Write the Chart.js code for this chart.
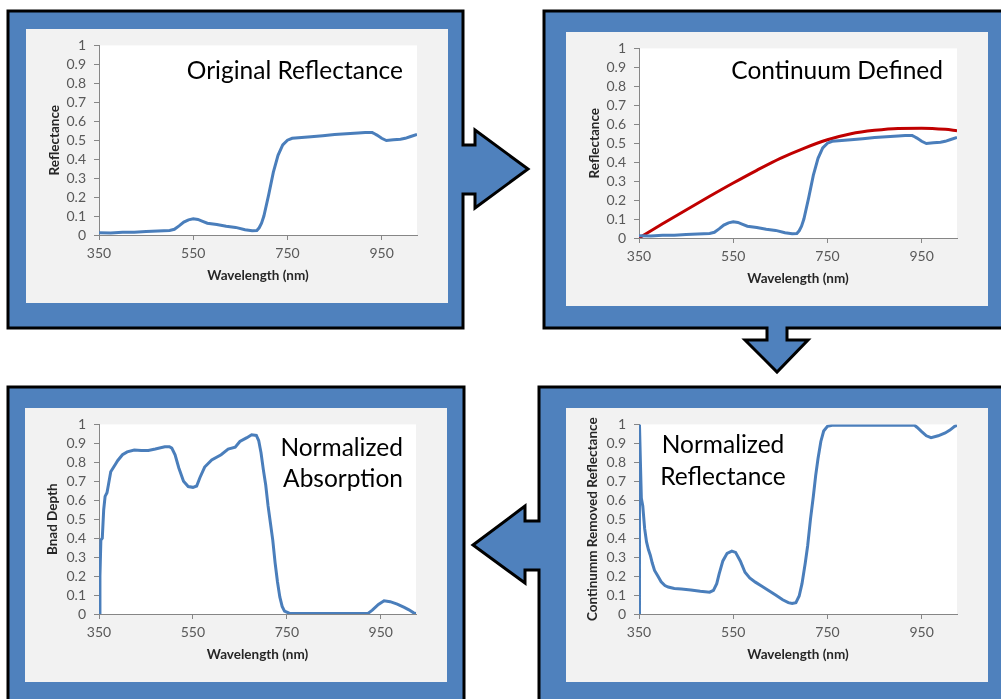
<!DOCTYPE html>
<html>
<head>
<meta charset="utf-8">
<script src="https://cdn.jsdelivr.net/npm/chart.js@4.4.1/dist/chart.umd.min.js"></script>
<style>
  html, body { margin: 0; padding: 0; background: #ffffff; }
  #stage { position: relative; width: 1001px; height: 699px; overflow: hidden; background: #ffffff; }
  svg.frames { position: absolute; left: 0; top: 0; }
  .box { position: absolute; background: #F2F2F2; }
  .box canvas { display: block; }
  .big { position: absolute; font-family: Lato, "Open Sans", sans-serif; font-size: 24.5px; color: #000; white-space: nowrap; }
</style>
</head>
<body>
<div id="stage">
  <svg class="frames" width="1001" height="699" viewBox="0 0 1001 699">
    <g fill="#4F81BD" stroke="#000" stroke-width="3" stroke-linejoin="miter">
      <polygon points="8,11 463,11 463,145 475,145 475,130 528,169 475,208 475,194 463,194 463,328 8,328"/>
      <polygon points="544,11 1006,11 1006,328 787,328 787,340 808,340 777,372 745,340 767,340 767,328 544,328"/>
      <polygon points="539,387 1006,387 1006,705 539,705 539,570 525,570 525,583 473,545 525,506 525,521 539,521"/>
      <polygon points="8,387 464,387 464,705 8,705"/>
    </g>
  </svg>

  <div class="box" style="left:26px;top:29px;width:422px;height:274px;"><canvas id="c1" width="422" height="274"></canvas></div>
  <div class="box" style="left:566px;top:32px;width:422px;height:274px;"><canvas id="c2" width="422" height="274"></canvas></div>
  <div class="box" style="left:25px;top:408px;width:422px;height:274px;"><canvas id="c3" width="422" height="274"></canvas></div>
  <div class="box" style="left:566px;top:408px;width:422px;height:274px;"><canvas id="c4" width="422" height="274"></canvas></div>

  <div class="big" style="left:150px;top:58px;width:253px;text-align:right;line-height:24px;">Original Reflectance</div>
  <div class="big" style="left:690px;top:58px;width:253px;text-align:right;line-height:24px;">Continuum Defined</div>
  <div class="big" style="left:250px;top:431px;width:153px;text-align:right;line-height:31px;">Normalized<br>Absorption</div>
  <div class="big" style="left:643px;top:428px;width:160px;text-align:center;line-height:31.7px;">Normalized<br>Reflectance</div>
</div>

<script>
// ---------------- DATA ----------------
const xTicks = [350, 550, 750, 950];
const xTickLabels = ['350', '550', '750', '950'];
const yTicks = [0, 0.1, 0.2, 0.3, 0.4, 0.5, 0.6, 0.7, 0.8, 0.9, 1];
const yTickLabels = ['0', '0.1', '0.2', '0.3', '0.4', '0.5', '0.6', '0.7', '0.8', '0.9', '1'];

// Original reflectance
const reflWl  = [350, 375, 400, 425, 450, 475, 500, 510, 520, 530, 540, 550, 560, 570, 580, 600, 620, 640, 660, 675, 685, 690, 695, 700, 710, 720, 730, 740, 750, 760, 780, 800, 825, 850, 875, 900, 915, 930, 935, 940, 950, 960, 975, 990, 1000, 1010, 1025];
const reflVal = [0.012, 0.011, 0.014, 0.015, 0.018, 0.021, 0.024, 0.030, 0.048, 0.068, 0.080, 0.085, 0.082, 0.072, 0.062, 0.055, 0.046, 0.040, 0.028, 0.022, 0.024, 0.038, 0.062, 0.100, 0.210, 0.330, 0.420, 0.475, 0.500, 0.510, 0.514, 0.518, 0.524, 0.530, 0.534, 0.538, 0.540, 0.540, 0.534, 0.527, 0.510, 0.498, 0.502, 0.505, 0.510, 0.518, 0.530];

// Continuum hull
const contWl  = [350, 400, 450, 500, 550, 600, 650, 700, 750, 800, 850, 900, 950, 1000, 1025];
const contVal = [0.0, 0.075, 0.148, 0.22, 0.29, 0.357, 0.42, 0.473, 0.518, 0.55, 0.568, 0.578, 0.579, 0.573, 0.566];

// Band depth (normalized absorption)
const depthWl  = [350, 352, 354, 357, 360, 363, 367, 370, 375, 380, 385, 390, 400, 410, 425, 440, 455, 470, 490, 500, 505, 512, 520, 530, 540, 550, 558, 565, 575, 590, 610, 625, 640, 650, 665, 675, 685, 690, 695, 700, 705, 710, 715, 720, 725, 730, 735, 740, 745, 755, 800, 850, 900, 922, 932, 945, 957, 970, 985, 1000, 1010, 1020, 1025];
const depthVal = [0.0, 0.2, 0.39, 0.40, 0.55, 0.62, 0.64, 0.68, 0.75, 0.77, 0.79, 0.81, 0.84, 0.855, 0.865, 0.862, 0.862, 0.87, 0.882, 0.882, 0.875, 0.84, 0.77, 0.70, 0.672, 0.668, 0.675, 0.72, 0.775, 0.812, 0.84, 0.87, 0.88, 0.91, 0.93, 0.945, 0.942, 0.915, 0.85, 0.76, 0.68, 0.57, 0.48, 0.39, 0.27, 0.17, 0.09, 0.04, 0.015, 0.004, 0.003, 0.003, 0.002, 0.002, 0.02, 0.05, 0.07, 0.065, 0.052, 0.035, 0.022, 0.006, 0.002];

// Continuum removed reflectance (normalized reflectance)
const crWl  = [350, 351, 353, 355, 358, 362, 366, 370, 374, 378, 383, 390, 397, 405, 412, 425, 440, 460, 480, 500, 508, 515, 520, 528, 537, 547, 555, 565, 575, 585, 597, 610, 625, 640, 655, 667, 675, 683, 690, 696, 703, 708, 714, 720, 725, 730, 736, 742, 750, 760, 800, 850, 900, 935, 940, 950, 960, 970, 985, 1000, 1010, 1020, 1025];
const crVal = [0.0, 1.0, 0.8, 0.61, 0.57, 0.45, 0.38, 0.34, 0.31, 0.27, 0.23, 0.20, 0.17, 0.15, 0.142, 0.135, 0.132, 0.127, 0.12, 0.115, 0.125, 0.16, 0.21, 0.28, 0.32, 0.332, 0.325, 0.28, 0.22, 0.19, 0.168, 0.148, 0.124, 0.10, 0.075, 0.06, 0.055, 0.06, 0.095, 0.16, 0.27, 0.36, 0.50, 0.62, 0.73, 0.82, 0.91, 0.965, 0.99, 0.995, 0.996, 0.995, 0.996, 0.995, 0.985, 0.962, 0.94, 0.93, 0.94, 0.955, 0.97, 0.99, 0.995];

// ---------------- CHARTS ----------------
const BLUE = '#4A7EBB';
const RED = '#C00000';
const AXIS = '#868686';
const TICKCOL = '#595959';
const TITLECOL = '#262626';
const FONT = 'Lato, "Open Sans", sans-serif';

function pts(xs, ys) { return xs.map((x, i) => ({ x: x, y: ys[i] })); }

const plotBg = {
  id: 'plotBg',
  beforeDraw(chart) {
    const a = chart.chartArea, ctx = chart.ctx;
    ctx.save();
    ctx.fillStyle = '#F2F2F2';
    ctx.fillRect(0, 0, chart.width, chart.height);
    ctx.fillStyle = '#FFFFFF';
    ctx.fillRect(a.left, a.top, a.right - a.left, a.bottom - a.top);
    ctx.restore();
  }
};

function makeChart(id, datasets, yTitle, yAxisWidth, yTitlePad, rightPad) {
  return new Chart(document.getElementById(id), {
    type: 'line',
    data: { datasets: datasets },
    plugins: [plotBg],
    options: {
      responsive: false,
      animation: false,
      events: [],
      layout: { padding: { left: 0, right: rightPad, top: 16, bottom: 0 } },
      plugins: { legend: { display: false }, tooltip: { enabled: false }, title: { display: false } },
      elements: { point: { radius: 0 }, line: { tension: 0 } },
      scales: {
        x: {
          type: 'linear', min: 350, max: 1025,
          afterBuildTicks(s) { s.ticks = xTicks.map(v => ({ value: v })); },
          afterFit(s) { s.height = 68; },
          ticks: {
            color: TICKCOL, font: { family: FONT, size: 14 }, padding: 5, maxRotation: 0, autoSkip: false,
            callback(v) { const i = xTicks.indexOf(v); return i >= 0 ? xTickLabels[i] : ''; }
          },
          grid: { display: true, drawOnChartArea: false, drawTicks: true, tickLength: 5, color: AXIS },
          border: { display: true, color: AXIS, width: 1 },
          title: { display: true, text: 'Wavelength (nm)', color: TITLECOL, font: { family: FONT, size: 13.5, weight: 'bold' }, padding: { top: 0, bottom: 19 } }
        },
        y: {
          type: 'linear', min: 0, max: 1,
          afterBuildTicks(s) { s.ticks = yTicks.map(v => ({ value: v })); },
          afterFit(s) { s.width = yAxisWidth; },
          ticks: {
            color: TICKCOL, font: { family: FONT, size: 14 }, padding: 8, autoSkip: false,
            callback(v) { const i = yTicks.findIndex(t => Math.abs(t - v) < 1e-6); return i >= 0 ? yTickLabels[i] : ''; }
          },
          grid: { display: true, drawOnChartArea: false, drawTicks: true, tickLength: 5, color: AXIS },
          border: { display: true, color: AXIS, width: 1 },
          title: { display: true, text: yTitle, color: TITLECOL, font: { family: FONT, size: 13.5, weight: 'bold' }, padding: { top: yTitlePad, bottom: 0 } }
        }
      }
    }
  });
}

makeChart('c1', [
  { data: pts(reflWl, reflVal), borderColor: BLUE, borderWidth: 3, fill: false }
], 'Reflectance', 73, 21, 31);

makeChart('c2', [
  { data: pts(reflWl, reflVal), borderColor: BLUE, borderWidth: 3, fill: false },
  { data: pts(contWl, contVal), borderColor: RED, borderWidth: 3, fill: false, tension: 0.4, cubicInterpolationMode: 'monotone' }
], 'Reflectance', 73, 21, 31);

makeChart('c3', [
  { data: pts(depthWl, depthVal), borderColor: BLUE, borderWidth: 3, fill: false }
], 'Bnad Depth', 74, 20, 31);

makeChart('c4', [
  { data: pts(crWl, crVal), borderColor: BLUE, borderWidth: 3, fill: false }
], 'Continumm Removed Reflectance', 73, 19, 31);
</script>
</body>
</html>
